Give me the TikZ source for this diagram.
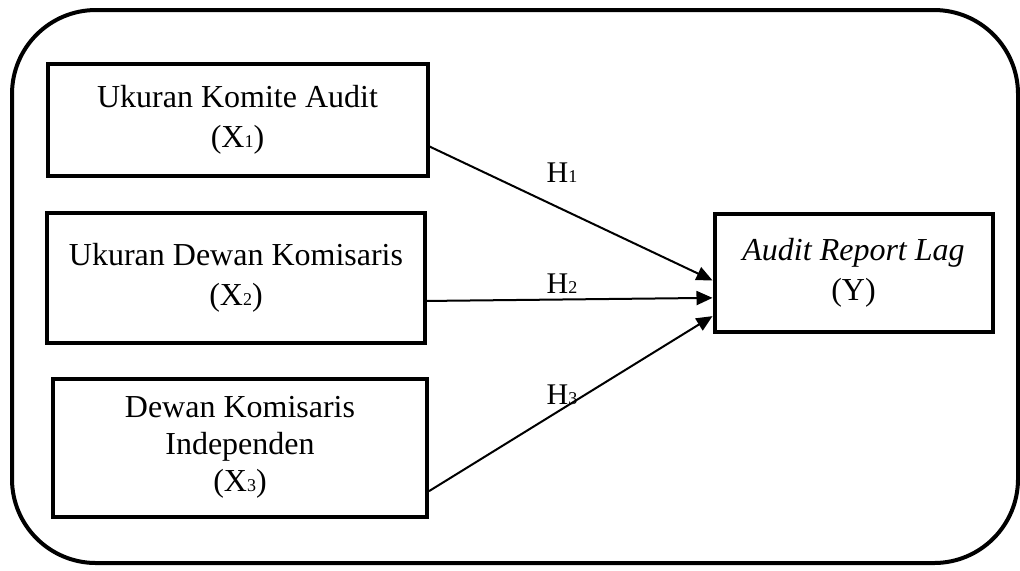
\documentclass[tikz,border=0pt]{standalone}
\usepackage{fontspec}
\setmainfont{Liberation Serif}
\usetikzlibrary{arrows.meta}
\newcommand{\smalldig}[1]{{\fontsize{9}{9}\selectfont #1}}

\begin{document}
\begin{tikzpicture}[x=0.5pt,y=-0.5pt,
    varbox/.style={draw,line width=2pt,rectangle,align=center,
        font=\fontsize{16}{20}\selectfont},
    hyp/.style={font=\fontsize{15}{18}\selectfont},
    link/.style={line width=1pt,-{Triangle[length=8pt,width=7pt]}}]
    \useasboundingbox (0,0) rectangle (1020,570);
    \draw[line width=2pt,rounded corners=42pt] (12,10) rectangle (1018,563);

    \node[varbox,minimum width=190pt,minimum height=56pt] (x1) at (237.5,119.5) {Ukuran Komite Audit\\(X\smalldig{1})};
    \node[varbox,minimum width=189pt,minimum height=65pt] (x2) at (236,277.5) {Ukuran Dewan Komisaris\\(X\smalldig{2})};
    \node[varbox,minimum width=187pt,minimum height=69pt,font=\fontsize{16}{18.5}\selectfont] (x3) at (240,447.5) {Dewan Komisaris\\Independen\\(X\smalldig{3})};
    \node[varbox,minimum width=139pt,minimum height=59pt] (y) at (853.5,273) {\textit{Audit Report Lag}\\(Y)};

    \draw[link] (x1.-8) -- (y.183.6);
    \draw[link] (x2.-7.3) -- (y.190.3);
    \draw[link] (x3.-13.2) -- (y.197.5);

    \node[hyp] (h1) at (562,173) {H\smalldig{1}};
    \node[hyp] (h2) at (562,284) {H\smalldig{2}};
    \node[hyp] (h3) at (562,395) {H\smalldig{3}};
\end{tikzpicture}
\end{document}
